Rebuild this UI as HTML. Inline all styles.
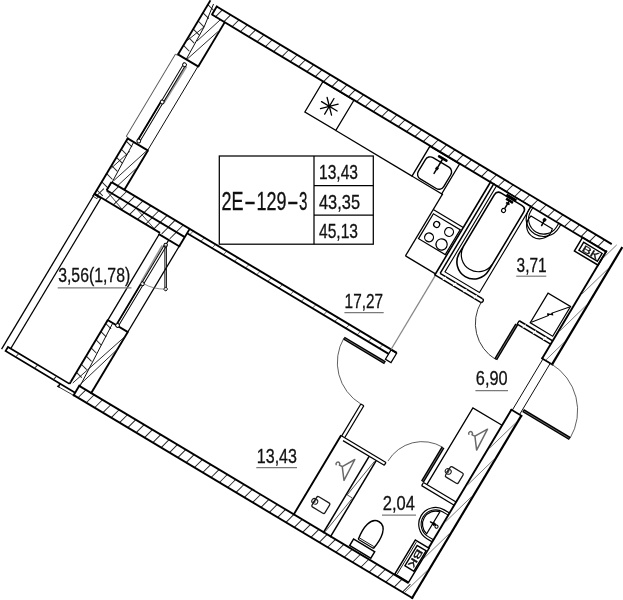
<!DOCTYPE html>
<html><head><meta charset="utf-8"><title>Plan 2E-129-3</title>
<style>
html,body{margin:0;padding:0;background:#fff;}
svg{display:block}
svg{filter:grayscale(1)}
text{font-family:"Liberation Sans",sans-serif;fill:#111;stroke:#111;stroke-width:0.3px;}
</style></head>
<body>
<svg width="623" height="600" viewBox="0 0 623 600">
<rect width="623" height="600" fill="#fff"/>
<g transform="translate(216.3 6.2) rotate(30.92)" fill="none">
<line x1="4.6" y1="9.9" x2="6.97" y2="0.4" stroke="#222" stroke-width="0.95" stroke-linecap="butt"/>
<line x1="14.3" y1="9.9" x2="16.67" y2="0.4" stroke="#222" stroke-width="0.95" stroke-linecap="butt"/>
<line x1="24.0" y1="9.9" x2="26.38" y2="0.4" stroke="#222" stroke-width="0.95" stroke-linecap="butt"/>
<line x1="33.7" y1="9.9" x2="36.08" y2="0.4" stroke="#222" stroke-width="0.95" stroke-linecap="butt"/>
<line x1="43.4" y1="9.9" x2="45.78" y2="0.4" stroke="#222" stroke-width="0.95" stroke-linecap="butt"/>
<line x1="53.1" y1="9.9" x2="55.48" y2="0.4" stroke="#222" stroke-width="0.95" stroke-linecap="butt"/>
<line x1="62.8" y1="9.9" x2="65.18" y2="0.4" stroke="#222" stroke-width="0.95" stroke-linecap="butt"/>
<line x1="72.5" y1="9.9" x2="74.88" y2="0.4" stroke="#222" stroke-width="0.95" stroke-linecap="butt"/>
<line x1="82.2" y1="9.9" x2="84.58" y2="0.4" stroke="#222" stroke-width="0.95" stroke-linecap="butt"/>
<line x1="91.9" y1="9.9" x2="94.28" y2="0.4" stroke="#222" stroke-width="0.95" stroke-linecap="butt"/>
<line x1="101.6" y1="9.9" x2="103.98" y2="0.4" stroke="#222" stroke-width="0.95" stroke-linecap="butt"/>
<line x1="111.3" y1="9.9" x2="113.68" y2="0.4" stroke="#222" stroke-width="0.95" stroke-linecap="butt"/>
<line x1="121.0" y1="9.9" x2="123.38" y2="0.4" stroke="#222" stroke-width="0.95" stroke-linecap="butt"/>
<line x1="130.7" y1="9.9" x2="133.08" y2="0.4" stroke="#222" stroke-width="0.95" stroke-linecap="butt"/>
<line x1="140.4" y1="9.9" x2="142.78" y2="0.4" stroke="#222" stroke-width="0.95" stroke-linecap="butt"/>
<line x1="150.1" y1="9.9" x2="152.47" y2="0.4" stroke="#222" stroke-width="0.95" stroke-linecap="butt"/>
<line x1="159.8" y1="9.9" x2="162.17" y2="0.4" stroke="#222" stroke-width="0.95" stroke-linecap="butt"/>
<line x1="169.5" y1="9.9" x2="171.87" y2="0.4" stroke="#222" stroke-width="0.95" stroke-linecap="butt"/>
<line x1="179.2" y1="9.9" x2="181.57" y2="0.4" stroke="#222" stroke-width="0.95" stroke-linecap="butt"/>
<line x1="188.9" y1="9.9" x2="191.27" y2="0.4" stroke="#222" stroke-width="0.95" stroke-linecap="butt"/>
<line x1="198.6" y1="9.9" x2="200.97" y2="0.4" stroke="#222" stroke-width="0.95" stroke-linecap="butt"/>
<line x1="208.3" y1="9.9" x2="210.67" y2="0.4" stroke="#222" stroke-width="0.95" stroke-linecap="butt"/>
<line x1="218.0" y1="9.9" x2="220.37" y2="0.4" stroke="#222" stroke-width="0.95" stroke-linecap="butt"/>
<line x1="227.7" y1="9.9" x2="230.07" y2="0.4" stroke="#222" stroke-width="0.95" stroke-linecap="butt"/>
<line x1="237.4" y1="9.9" x2="239.77" y2="0.4" stroke="#222" stroke-width="0.95" stroke-linecap="butt"/>
<line x1="247.1" y1="9.9" x2="249.47" y2="0.4" stroke="#222" stroke-width="0.95" stroke-linecap="butt"/>
<line x1="256.8" y1="9.9" x2="259.17" y2="0.4" stroke="#222" stroke-width="0.95" stroke-linecap="butt"/>
<line x1="266.5" y1="9.9" x2="268.87" y2="0.4" stroke="#222" stroke-width="0.95" stroke-linecap="butt"/>
<line x1="276.2" y1="9.9" x2="278.57" y2="0.4" stroke="#222" stroke-width="0.95" stroke-linecap="butt"/>
<line x1="285.9" y1="9.9" x2="288.27" y2="0.4" stroke="#222" stroke-width="0.95" stroke-linecap="butt"/>
<line x1="295.6" y1="9.9" x2="297.97" y2="0.4" stroke="#222" stroke-width="0.95" stroke-linecap="butt"/>
<line x1="305.3" y1="9.9" x2="307.67" y2="0.4" stroke="#222" stroke-width="0.95" stroke-linecap="butt"/>
<line x1="315.0" y1="9.9" x2="317.37" y2="0.4" stroke="#222" stroke-width="0.95" stroke-linecap="butt"/>
<line x1="324.7" y1="9.9" x2="327.07" y2="0.4" stroke="#222" stroke-width="0.95" stroke-linecap="butt"/>
<line x1="334.4" y1="9.9" x2="336.77" y2="0.4" stroke="#222" stroke-width="0.95" stroke-linecap="butt"/>
<line x1="344.1" y1="9.9" x2="346.47" y2="0.4" stroke="#222" stroke-width="0.95" stroke-linecap="butt"/>
<line x1="353.8" y1="9.9" x2="356.17" y2="0.4" stroke="#222" stroke-width="0.95" stroke-linecap="butt"/>
<line x1="363.5" y1="9.9" x2="365.87" y2="0.4" stroke="#222" stroke-width="0.95" stroke-linecap="butt"/>
<line x1="373.2" y1="9.9" x2="375.57" y2="0.4" stroke="#222" stroke-width="0.95" stroke-linecap="butt"/>
<line x1="382.9" y1="9.9" x2="385.27" y2="0.4" stroke="#222" stroke-width="0.95" stroke-linecap="butt"/>
<line x1="392.6" y1="9.9" x2="394.97" y2="0.4" stroke="#222" stroke-width="0.95" stroke-linecap="butt"/>
<line x1="402.3" y1="9.9" x2="404.67" y2="0.4" stroke="#222" stroke-width="0.95" stroke-linecap="butt"/>
<line x1="412.0" y1="9.9" x2="414.37" y2="0.4" stroke="#222" stroke-width="0.95" stroke-linecap="butt"/>
<line x1="421.7" y1="9.9" x2="424.07" y2="0.4" stroke="#222" stroke-width="0.95" stroke-linecap="butt"/>
<line x1="431.4" y1="9.9" x2="433.77" y2="0.4" stroke="#222" stroke-width="0.95" stroke-linecap="butt"/>
<line x1="441.1" y1="9.9" x2="443.47" y2="0.4" stroke="#222" stroke-width="0.95" stroke-linecap="butt"/>
<line x1="450.8" y1="9.9" x2="453.17" y2="0.4" stroke="#222" stroke-width="0.95" stroke-linecap="butt"/>
<line x1="82.5" y1="407.0" x2="85.22" y2="396.1" stroke="#222" stroke-width="0.95" stroke-linecap="butt"/>
<line x1="92.2" y1="407.0" x2="94.92" y2="396.1" stroke="#222" stroke-width="0.95" stroke-linecap="butt"/>
<line x1="101.9" y1="407.0" x2="104.62" y2="396.1" stroke="#222" stroke-width="0.95" stroke-linecap="butt"/>
<line x1="111.6" y1="407.0" x2="114.33" y2="396.1" stroke="#222" stroke-width="0.95" stroke-linecap="butt"/>
<line x1="121.3" y1="407.0" x2="124.03" y2="396.1" stroke="#222" stroke-width="0.95" stroke-linecap="butt"/>
<line x1="131.0" y1="407.0" x2="133.72" y2="396.1" stroke="#222" stroke-width="0.95" stroke-linecap="butt"/>
<line x1="140.7" y1="407.0" x2="143.42" y2="396.1" stroke="#222" stroke-width="0.95" stroke-linecap="butt"/>
<line x1="150.4" y1="407.0" x2="153.12" y2="396.1" stroke="#222" stroke-width="0.95" stroke-linecap="butt"/>
<line x1="160.1" y1="407.0" x2="162.82" y2="396.1" stroke="#222" stroke-width="0.95" stroke-linecap="butt"/>
<line x1="169.8" y1="407.0" x2="172.52" y2="396.1" stroke="#222" stroke-width="0.95" stroke-linecap="butt"/>
<line x1="179.5" y1="407.0" x2="182.22" y2="396.1" stroke="#222" stroke-width="0.95" stroke-linecap="butt"/>
<line x1="189.2" y1="407.0" x2="191.92" y2="396.1" stroke="#222" stroke-width="0.95" stroke-linecap="butt"/>
<line x1="198.9" y1="407.0" x2="201.62" y2="396.1" stroke="#222" stroke-width="0.95" stroke-linecap="butt"/>
<line x1="208.6" y1="407.0" x2="211.32" y2="396.1" stroke="#222" stroke-width="0.95" stroke-linecap="butt"/>
<line x1="218.3" y1="407.0" x2="221.02" y2="396.1" stroke="#222" stroke-width="0.95" stroke-linecap="butt"/>
<line x1="228.0" y1="407.0" x2="230.72" y2="396.1" stroke="#222" stroke-width="0.95" stroke-linecap="butt"/>
<line x1="237.7" y1="407.0" x2="240.42" y2="396.1" stroke="#222" stroke-width="0.95" stroke-linecap="butt"/>
<line x1="247.4" y1="407.0" x2="250.12" y2="396.1" stroke="#222" stroke-width="0.95" stroke-linecap="butt"/>
<line x1="257.1" y1="407.0" x2="259.82" y2="396.1" stroke="#222" stroke-width="0.95" stroke-linecap="butt"/>
<line x1="266.8" y1="407.0" x2="269.52" y2="396.1" stroke="#222" stroke-width="0.95" stroke-linecap="butt"/>
<line x1="276.5" y1="407.0" x2="279.22" y2="396.1" stroke="#222" stroke-width="0.95" stroke-linecap="butt"/>
<line x1="286.2" y1="407.0" x2="288.92" y2="396.1" stroke="#222" stroke-width="0.95" stroke-linecap="butt"/>
<line x1="295.9" y1="407.0" x2="298.62" y2="396.1" stroke="#222" stroke-width="0.95" stroke-linecap="butt"/>
<line x1="305.6" y1="407.0" x2="308.32" y2="396.1" stroke="#222" stroke-width="0.95" stroke-linecap="butt"/>
<line x1="315.3" y1="407.0" x2="318.02" y2="396.1" stroke="#222" stroke-width="0.95" stroke-linecap="butt"/>
<line x1="325.0" y1="407.0" x2="327.72" y2="396.1" stroke="#222" stroke-width="0.95" stroke-linecap="butt"/>
<line x1="334.7" y1="407.0" x2="337.42" y2="396.1" stroke="#222" stroke-width="0.95" stroke-linecap="butt"/>
<line x1="344.4" y1="407.0" x2="347.12" y2="396.1" stroke="#222" stroke-width="0.95" stroke-linecap="butt"/>
<line x1="354.1" y1="407.0" x2="356.82" y2="396.1" stroke="#222" stroke-width="0.95" stroke-linecap="butt"/>
<line x1="363.8" y1="407.0" x2="366.52" y2="396.1" stroke="#222" stroke-width="0.95" stroke-linecap="butt"/>
<line x1="373.5" y1="407.0" x2="376.22" y2="396.1" stroke="#222" stroke-width="0.95" stroke-linecap="butt"/>
<line x1="383.2" y1="407.0" x2="385.92" y2="396.1" stroke="#222" stroke-width="0.95" stroke-linecap="butt"/>
<line x1="392.9" y1="407.0" x2="395.62" y2="396.1" stroke="#222" stroke-width="0.95" stroke-linecap="butt"/>
<line x1="402.6" y1="407.0" x2="405.32" y2="396.1" stroke="#222" stroke-width="0.95" stroke-linecap="butt"/>
<line x1="412.3" y1="407.0" x2="415.02" y2="396.1" stroke="#222" stroke-width="0.95" stroke-linecap="butt"/>
<line x1="422.0" y1="407.0" x2="424.72" y2="396.1" stroke="#222" stroke-width="0.95" stroke-linecap="butt"/>
<line x1="431.7" y1="407.0" x2="434.42" y2="396.1" stroke="#222" stroke-width="0.95" stroke-linecap="butt"/>
<line x1="441.4" y1="407.0" x2="444.12" y2="396.1" stroke="#222" stroke-width="0.95" stroke-linecap="butt"/>
<line x1="451.1" y1="407.0" x2="453.82" y2="396.1" stroke="#222" stroke-width="0.95" stroke-linecap="butt"/>
<line x1="460.8" y1="407.0" x2="463.52" y2="396.1" stroke="#222" stroke-width="0.95" stroke-linecap="butt"/>
<line x1="-8" y1="3" x2="0" y2="5.0" stroke="#222" stroke-width="0.95" stroke-linecap="butt"/>
<line x1="-8" y1="12.5" x2="0" y2="14.5" stroke="#222" stroke-width="0.95" stroke-linecap="butt"/>
<line x1="-8" y1="22.0" x2="0" y2="24.0" stroke="#222" stroke-width="0.95" stroke-linecap="butt"/>
<line x1="-8" y1="31.5" x2="0" y2="33.5" stroke="#222" stroke-width="0.95" stroke-linecap="butt"/>
<line x1="-8" y1="41.0" x2="0" y2="43.0" stroke="#222" stroke-width="0.95" stroke-linecap="butt"/>
<line x1="-8" y1="50.5" x2="0" y2="52.5" stroke="#222" stroke-width="0.95" stroke-linecap="butt"/>
<line x1="-8" y1="162" x2="0" y2="164.0" stroke="#222" stroke-width="0.95" stroke-linecap="butt"/>
<line x1="-8" y1="171.5" x2="0" y2="173.5" stroke="#222" stroke-width="0.95" stroke-linecap="butt"/>
<line x1="-8" y1="181.0" x2="0" y2="183.0" stroke="#222" stroke-width="0.95" stroke-linecap="butt"/>
<line x1="-8" y1="190.5" x2="0" y2="192.5" stroke="#222" stroke-width="0.95" stroke-linecap="butt"/>
<line x1="-8" y1="200.0" x2="0" y2="202.0" stroke="#222" stroke-width="0.95" stroke-linecap="butt"/>
<line x1="-8" y1="209.5" x2="0" y2="211.5" stroke="#222" stroke-width="0.95" stroke-linecap="butt"/>
<line x1="-8" y1="219.0" x2="0" y2="221.0" stroke="#222" stroke-width="0.95" stroke-linecap="butt"/>
<line x1="6.5" y1="214.3" x2="8.9" y2="204.7" stroke="#222" stroke-width="0.95" stroke-linecap="butt"/>
<line x1="15.9" y1="214.3" x2="18.3" y2="204.7" stroke="#222" stroke-width="0.95" stroke-linecap="butt"/>
<line x1="25.3" y1="214.3" x2="27.7" y2="204.7" stroke="#222" stroke-width="0.95" stroke-linecap="butt"/>
<line x1="34.7" y1="214.3" x2="37.1" y2="204.7" stroke="#222" stroke-width="0.95" stroke-linecap="butt"/>
<line x1="44.1" y1="214.3" x2="46.5" y2="204.7" stroke="#222" stroke-width="0.95" stroke-linecap="butt"/>
<line x1="53.5" y1="214.3" x2="55.9" y2="204.7" stroke="#222" stroke-width="0.95" stroke-linecap="butt"/>
<line x1="62.9" y1="214.3" x2="65.3" y2="204.7" stroke="#222" stroke-width="0.95" stroke-linecap="butt"/>
<line x1="72.3" y1="214.3" x2="74.7" y2="204.7" stroke="#222" stroke-width="0.95" stroke-linecap="butt"/>
<line x1="81.7" y1="214.3" x2="84.1" y2="204.7" stroke="#222" stroke-width="0.95" stroke-linecap="butt"/>
<line x1="-5" y1="223.4" x2="-2.73" y2="214.3" stroke="#222" stroke-width="0.95" stroke-linecap="butt"/>
<line x1="4.4" y1="223.4" x2="6.67" y2="214.3" stroke="#222" stroke-width="0.95" stroke-linecap="butt"/>
<line x1="13.8" y1="223.4" x2="16.07" y2="214.3" stroke="#222" stroke-width="0.95" stroke-linecap="butt"/>
<line x1="23.2" y1="223.4" x2="25.48" y2="214.3" stroke="#222" stroke-width="0.95" stroke-linecap="butt"/>
<line x1="32.6" y1="223.4" x2="34.88" y2="214.3" stroke="#222" stroke-width="0.95" stroke-linecap="butt"/>
<line x1="42.0" y1="223.4" x2="44.27" y2="214.3" stroke="#222" stroke-width="0.95" stroke-linecap="butt"/>
<line x1="51.4" y1="223.4" x2="53.67" y2="214.3" stroke="#222" stroke-width="0.95" stroke-linecap="butt"/>
<line x1="60.8" y1="223.4" x2="63.07" y2="214.3" stroke="#222" stroke-width="0.95" stroke-linecap="butt"/>
<line x1="70.2" y1="223.4" x2="72.47" y2="214.3" stroke="#222" stroke-width="0.95" stroke-linecap="butt"/>
<line x1="79.6" y1="223.4" x2="81.88" y2="214.3" stroke="#222" stroke-width="0.95" stroke-linecap="butt"/>
<line x1="68.2" y1="329" x2="75.5" y2="330.82" stroke="#222" stroke-width="0.95" stroke-linecap="butt"/>
<line x1="68.2" y1="338.5" x2="75.5" y2="340.32" stroke="#222" stroke-width="0.95" stroke-linecap="butt"/>
<line x1="68.2" y1="348.0" x2="75.5" y2="349.82" stroke="#222" stroke-width="0.95" stroke-linecap="butt"/>
<line x1="68.2" y1="357.5" x2="75.5" y2="359.32" stroke="#222" stroke-width="0.95" stroke-linecap="butt"/>
<line x1="68.2" y1="367.0" x2="75.5" y2="368.82" stroke="#222" stroke-width="0.95" stroke-linecap="butt"/>
<line x1="68.2" y1="376.5" x2="75.5" y2="378.32" stroke="#222" stroke-width="0.95" stroke-linecap="butt"/>
<line x1="68.2" y1="386.0" x2="75.5" y2="387.82" stroke="#222" stroke-width="0.95" stroke-linecap="butt"/>
<line x1="94.6" y1="209.7" x2="95.85" y2="204.7" stroke="#555" stroke-width="0.8" stroke-linecap="butt"/>
<line x1="107.6" y1="209.7" x2="108.85" y2="204.7" stroke="#555" stroke-width="0.8" stroke-linecap="butt"/>
<line x1="120.6" y1="209.7" x2="121.85" y2="204.7" stroke="#555" stroke-width="0.8" stroke-linecap="butt"/>
<line x1="133.6" y1="209.7" x2="134.85" y2="204.7" stroke="#555" stroke-width="0.8" stroke-linecap="butt"/>
<line x1="146.6" y1="209.7" x2="147.85" y2="204.7" stroke="#555" stroke-width="0.8" stroke-linecap="butt"/>
<line x1="159.6" y1="209.7" x2="160.85" y2="204.7" stroke="#555" stroke-width="0.8" stroke-linecap="butt"/>
<line x1="172.6" y1="209.7" x2="173.85" y2="204.7" stroke="#555" stroke-width="0.8" stroke-linecap="butt"/>
<line x1="185.6" y1="209.7" x2="186.85" y2="204.7" stroke="#555" stroke-width="0.8" stroke-linecap="butt"/>
<line x1="198.6" y1="209.7" x2="199.85" y2="204.7" stroke="#555" stroke-width="0.8" stroke-linecap="butt"/>
<line x1="211.6" y1="209.7" x2="212.85" y2="204.7" stroke="#555" stroke-width="0.8" stroke-linecap="butt"/>
<line x1="224.6" y1="209.7" x2="225.85" y2="204.7" stroke="#555" stroke-width="0.8" stroke-linecap="butt"/>
<line x1="237.6" y1="209.7" x2="238.85" y2="204.7" stroke="#555" stroke-width="0.8" stroke-linecap="butt"/>
<line x1="250.6" y1="209.7" x2="251.85" y2="204.7" stroke="#555" stroke-width="0.8" stroke-linecap="butt"/>
<line x1="263.6" y1="209.7" x2="264.85" y2="204.7" stroke="#555" stroke-width="0.8" stroke-linecap="butt"/>
<line x1="276.6" y1="209.7" x2="277.85" y2="204.7" stroke="#555" stroke-width="0.8" stroke-linecap="butt"/>
<line x1="289.6" y1="209.7" x2="290.85" y2="204.7" stroke="#555" stroke-width="0.8" stroke-linecap="butt"/>
<line x1="302.6" y1="209.7" x2="303.85" y2="204.7" stroke="#555" stroke-width="0.8" stroke-linecap="butt"/>
<line x1="315.6" y1="209.7" x2="316.85" y2="204.7" stroke="#555" stroke-width="0.8" stroke-linecap="butt"/>
<line x1="0" y1="0.0" x2="461.5" y2="0.95" stroke="#000" stroke-width="1.9" stroke-linecap="butt"/>
<line x1="0.5" y1="9.4" x2="460.5" y2="10.4" stroke="#000" stroke-width="1.9" stroke-linecap="butt"/>
<line x1="0.6" y1="-0.8" x2="0.6" y2="9.9" stroke="#000" stroke-width="1.9" stroke-linecap="butt"/>
<line x1="-8" y1="-2" x2="-8" y2="61.5" stroke="#000" stroke-width="1.9" stroke-linecap="butt"/>
<line x1="15.5" y1="9" x2="15.5" y2="61" stroke="#000" stroke-width="1.9" stroke-linecap="butt"/>
<line x1="-8.7" y1="61" x2="16.2" y2="61" stroke="#000" stroke-width="1.9" stroke-linecap="butt"/>
<line x1="-3.5" y1="-0.5" x2="0.2" y2="24" stroke="#000" stroke-width="0.85" stroke-linecap="butt"/>
<line x1="0.2" y1="24" x2="1.5" y2="61" stroke="#000" stroke-width="0.85" stroke-linecap="butt"/>
<line x1="10.3" y1="10" x2="1.3" y2="40" stroke="#222" stroke-width="0.85" stroke-linecap="butt"/>
<line x1="0.2" y1="24" x2="-7.5" y2="45" stroke="#222" stroke-width="0.85" stroke-linecap="butt"/>
<line x1="14.5" y1="21" x2="2" y2="61" stroke="#222" stroke-width="0.85" stroke-linecap="butt"/>
<line x1="-10.4" y1="62" x2="-10.4" y2="158" stroke="#555" stroke-width="0.9" stroke-linecap="butt"/>
<line x1="-10.4" y1="62" x2="-8" y2="62" stroke="#555" stroke-width="0.9" stroke-linecap="butt"/>
<line x1="-10.4" y1="158" x2="-8" y2="158" stroke="#555" stroke-width="0.9" stroke-linecap="butt"/>
<line x1="15.2" y1="61" x2="15.2" y2="159" stroke="#000" stroke-width="0.85" stroke-linecap="butt"/>
<line x1="5.3" y1="67" x2="4.6" y2="110" stroke="#999" stroke-width="2.0" stroke-linecap="butt"/>
<line x1="1.7" y1="65" x2="1.7" y2="157" stroke="#000" stroke-width="0.95" stroke-linecap="butt"/>
<line x1="3.9" y1="65" x2="3.9" y2="157" stroke="#000" stroke-width="0.95" stroke-linecap="butt"/>
<line x1="1.5" y1="111" x2="1.5" y2="156" stroke="#000" stroke-width="1.7" stroke-linecap="butt"/>
<circle cx="2.8" cy="66.5" r="1.9" stroke="#000" stroke-width="0.9" fill="#fff"/>
<circle cx="2.8" cy="110" r="1.9" stroke="#000" stroke-width="0.9" fill="#fff"/>
<circle cx="2.8" cy="155.5" r="1.9" stroke="#000" stroke-width="0.9" fill="#fff"/>
<line x1="-8" y1="158.5" x2="-8" y2="224" stroke="#000" stroke-width="1.9" stroke-linecap="butt"/>
<line x1="-8.7" y1="159" x2="16.2" y2="159" stroke="#000" stroke-width="1.9" stroke-linecap="butt"/>
<line x1="15.5" y1="159" x2="15.5" y2="205" stroke="#000" stroke-width="1.9" stroke-linecap="butt"/>
<line x1="-1.0" y1="159" x2="1.0" y2="203" stroke="#000" stroke-width="0.85" stroke-linecap="butt"/>
<line x1="1.0" y1="203" x2="0.5" y2="213.5" stroke="#000" stroke-width="0.85" stroke-linecap="butt"/>
<line x1="14.5" y1="160" x2="1.5" y2="203" stroke="#222" stroke-width="0.85" stroke-linecap="butt"/>
<line x1="14.5" y1="181" x2="7.5" y2="205" stroke="#222" stroke-width="0.85" stroke-linecap="butt"/>
<line x1="0.4" y1="169" x2="-6.9" y2="193" stroke="#222" stroke-width="0.85" stroke-linecap="butt"/>
<line x1="-8.7" y1="224.2" x2="0" y2="224.2" stroke="#000" stroke-width="1.25" stroke-linecap="butt"/>
<rect x="-8.6" y="224.2" width="5.2" height="2.2" rx="0" stroke="#000" stroke-width="0.7" fill="none"/>
<line x1="1" y1="214.8" x2="24" y2="222.8" stroke="#333" stroke-width="0.8" stroke-linecap="butt"/>
<line x1="36" y1="214.8" x2="62" y2="223" stroke="#333" stroke-width="0.8" stroke-linecap="butt"/>
<line x1="0.5" y1="204.7" x2="333" y2="204.7" stroke="#000" stroke-width="1.9" stroke-linecap="butt"/>
<line x1="0.5" y1="204.7" x2="0.5" y2="214.3" stroke="#000" stroke-width="1.9" stroke-linecap="butt"/>
<line x1="0.5" y1="214.3" x2="91.6" y2="214.3" stroke="#000" stroke-width="1.9" stroke-linecap="butt"/>
<line x1="-8" y1="223.4" x2="68.2" y2="223.4" stroke="#000" stroke-width="1.9" stroke-linecap="butt"/>
<line x1="67.4" y1="225" x2="92.4" y2="225" stroke="#000" stroke-width="1.9" stroke-linecap="butt"/>
<line x1="91.6" y1="204.7" x2="91.6" y2="225" stroke="#000" stroke-width="1.9" stroke-linecap="butt"/>
<line x1="91.6" y1="209.7" x2="326.5" y2="209.7" stroke="#000" stroke-width="1.8" stroke-linecap="butt"/>
<path d="M326.5 205 L333 205 L333 216 L326.5 216 Z" stroke="#000" stroke-width="1.25" fill="none" stroke-linejoin="miter"/>
<line x1="326.3" y1="119" x2="326.3" y2="204.7" stroke="#888" stroke-width="1.3" stroke-linecap="butt"/>
<line x1="-8" y1="224" x2="-8" y2="404.5" stroke="#000" stroke-width="1.3" stroke-linecap="butt"/>
<line x1="-0.4" y1="224" x2="-0.4" y2="399.4" stroke="#000" stroke-width="1.2" stroke-linecap="butt"/>
<path d="M68.2 399.4 L-3.6 399.4 L-3.6 404.1 L77.5 404.1" stroke="#000" stroke-width="1.7" fill="none" stroke-linejoin="miter"/>
<line x1="68.2" y1="397" x2="68.2" y2="399.4" stroke="#000" stroke-width="1.9" stroke-linecap="butt"/>
<line x1="60" y1="404" x2="60" y2="407.6" stroke="#000" stroke-width="1.6" stroke-linecap="butt"/>
<line x1="58.6" y1="407.6" x2="61.6" y2="407.6" stroke="#000" stroke-width="1.2" stroke-linecap="butt"/>
<line x1="61" y1="407.6" x2="77.5" y2="407.2" stroke="#000" stroke-width="0.7" stroke-linecap="butt"/>
<line x1="8" y1="404.1" x2="9.18" y2="399.4" stroke="#222" stroke-width="0.9" stroke-linecap="butt"/>
<line x1="30" y1="404.1" x2="31.18" y2="399.4" stroke="#222" stroke-width="0.9" stroke-linecap="butt"/>
<line x1="52" y1="404.1" x2="53.18" y2="399.4" stroke="#222" stroke-width="0.9" stroke-linecap="butt"/>
<line x1="68.2" y1="225" x2="68.2" y2="325" stroke="#000" stroke-width="1.3" stroke-linecap="butt"/>
<line x1="68.2" y1="325" x2="68.2" y2="397" stroke="#000" stroke-width="1.9" stroke-linecap="butt"/>
<line x1="91.5" y1="225" x2="91.5" y2="325" stroke="#000" stroke-width="1.3" stroke-linecap="butt"/>
<line x1="79.3" y1="225" x2="79.3" y2="229.5" stroke="#000" stroke-width="1.25" stroke-linecap="butt"/>
<line x1="76.6" y1="233" x2="77.3" y2="275" stroke="#999" stroke-width="1.8" stroke-linecap="butt"/>
<line x1="78.2" y1="231" x2="78.2" y2="323" stroke="#000" stroke-width="0.95" stroke-linecap="butt"/>
<line x1="80.4" y1="231" x2="80.4" y2="323" stroke="#000" stroke-width="0.95" stroke-linecap="butt"/>
<line x1="77.9" y1="277" x2="77.9" y2="323" stroke="#000" stroke-width="1.7" stroke-linecap="butt"/>
<circle cx="79.3" cy="231" r="1.8" stroke="#000" stroke-width="0.9" fill="#fff"/>
<circle cx="79.3" cy="276" r="1.8" stroke="#000" stroke-width="0.9" fill="#fff"/>
<line x1="78.39999999999999" y1="231" x2="101.00899264454068" y2="268.7469661244332" stroke="#111" stroke-width="1.0" stroke-linecap="butt"/>
<line x1="80.2" y1="231" x2="102.8089926445407" y2="268.7469661244332" stroke="#111" stroke-width="1.0" stroke-linecap="butt"/>
<circle cx="101.90899264454069" cy="268.7469661244332" r="1.7" stroke="#000" stroke-width="0.8" fill="#fff"/>
<path d="M101.90899264454069 268.7469661244332 A44 44 0 0 1 79.3 275.5" stroke="#555" stroke-width="0.6" fill="none" />
<line x1="67.5" y1="325" x2="92.2" y2="325" stroke="#000" stroke-width="1.9" stroke-linecap="butt"/>
<circle cx="79.3" cy="324.6" r="1.9" stroke="#000" stroke-width="1.0" fill="#fff"/>
<line x1="74" y1="325" x2="78.3" y2="396" stroke="#000" stroke-width="0.85" stroke-linecap="butt"/>
<line x1="91.5" y1="325" x2="91.5" y2="397" stroke="#000" stroke-width="1.9" stroke-linecap="butt"/>
<line x1="91.5" y1="330" x2="70.5" y2="397" stroke="#222" stroke-width="0.85" stroke-linecap="butt"/>
<line x1="91.5" y1="345" x2="77" y2="396.5" stroke="#222" stroke-width="0.85" stroke-linecap="butt"/>
<line x1="77.5" y1="396.1" x2="461.4" y2="396.1" stroke="#000" stroke-width="1.9" stroke-linecap="butt"/>
<line x1="77.5" y1="407.0" x2="473.2" y2="407.0" stroke="#000" stroke-width="1.9" stroke-linecap="butt"/>
<line x1="77.5" y1="395.2" x2="77.5" y2="407.9" stroke="#000" stroke-width="1.9" stroke-linecap="butt"/>
<line x1="472.1" y1="-2" x2="472.1" y2="135" stroke="#000" stroke-width="2.2" stroke-linecap="butt"/>
<line x1="460.5" y1="9" x2="460.5" y2="135" stroke="#000" stroke-width="1.9" stroke-linecap="butt"/>
<line x1="472.1" y1="194.5" x2="472.1" y2="408" stroke="#000" stroke-width="2.2" stroke-linecap="butt"/>
<line x1="460.5" y1="194.5" x2="460.5" y2="356" stroke="#000" stroke-width="1.9" stroke-linecap="butt"/>
<line x1="466.17" y1="-1" x2="461.6" y2="16.0" stroke="#555" stroke-width="0.7" stroke-linecap="butt"/>
<line x1="471.0" y1="24" x2="461.6" y2="59.0" stroke="#555" stroke-width="0.7" stroke-linecap="butt"/>
<line x1="471.0" y1="67" x2="461.6" y2="102.0" stroke="#555" stroke-width="0.7" stroke-linecap="butt"/>
<line x1="471.0" y1="110" x2="464.55" y2="134" stroke="#555" stroke-width="0.7" stroke-linecap="butt"/>
<line x1="471.0" y1="203.5" x2="461.6" y2="238.5" stroke="#555" stroke-width="0.7" stroke-linecap="butt"/>
<line x1="471.0" y1="246.5" x2="461.6" y2="281.5" stroke="#555" stroke-width="0.7" stroke-linecap="butt"/>
<line x1="471.0" y1="289.5" x2="461.6" y2="324.5" stroke="#555" stroke-width="0.7" stroke-linecap="butt"/>
<line x1="471.0" y1="332.5" x2="461.6" y2="367.5" stroke="#555" stroke-width="0.7" stroke-linecap="butt"/>
<line x1="471.0" y1="375.5" x2="462.81" y2="406" stroke="#555" stroke-width="0.7" stroke-linecap="butt"/>
<line x1="459.6" y1="134.7" x2="473.2" y2="134.7" stroke="#000" stroke-width="1.7" stroke-linecap="butt"/>
<line x1="459.6" y1="194.5" x2="473.2" y2="194.5" stroke="#000" stroke-width="1.7" stroke-linecap="butt"/>
<line x1="461.5" y1="135" x2="461.5" y2="194.5" stroke="#000" stroke-width="0.85" stroke-linecap="butt"/>
<line x1="470" y1="135" x2="470" y2="194.5" stroke="#000" stroke-width="0.85" stroke-linecap="butt"/>
<line x1="471" y1="189.3" x2="525.5" y2="189.3" stroke="#000" stroke-width="3.5" stroke-linecap="butt"/>
<line x1="472" y1="189.3" x2="524.6" y2="189.3" stroke="#ddd" stroke-width="0.4" stroke-linecap="butt"/>
<path d="M525.5 189 A54.5 54.5 0 0 0 471 134.7" stroke="#333" stroke-width="0.7" fill="none" />
<line x1="325.6" y1="9" x2="325.6" y2="118.9" stroke="#000" stroke-width="1.6" stroke-linecap="butt"/>
<line x1="329.3" y1="9" x2="329.3" y2="114.2" stroke="#000" stroke-width="1.5" stroke-linecap="butt"/>
<line x1="329.3" y1="114.2" x2="378.5" y2="114.2" stroke="#000" stroke-width="1.5" stroke-linecap="butt"/>
<line x1="325.6" y1="118.2" x2="378.5" y2="118.2" stroke="#000" stroke-width="1.5" stroke-linecap="butt"/>
<path d="M378.5 114.2 A2 2 0 0 1 378.5 118.2" stroke="#000" stroke-width="1.3" fill="none" />
<line x1="421.5" y1="114.2" x2="460.5" y2="114.2" stroke="#000" stroke-width="1.5" stroke-linecap="butt"/>
<line x1="421.5" y1="118.2" x2="460.5" y2="118.2" stroke="#000" stroke-width="1.5" stroke-linecap="butt"/>
<line x1="421.5" y1="114.2" x2="421.5" y2="118.2" stroke="#000" stroke-width="1.3" stroke-linecap="butt"/>
<line x1="335" y1="118.2" x2="336.0" y2="114.2" stroke="#fff" stroke-width="1.2" stroke-linecap="butt"/>
<line x1="347" y1="118.2" x2="348.0" y2="114.2" stroke="#fff" stroke-width="1.2" stroke-linecap="butt"/>
<line x1="359" y1="118.2" x2="360.0" y2="114.2" stroke="#fff" stroke-width="1.2" stroke-linecap="butt"/>
<line x1="371" y1="118.2" x2="372.0" y2="114.2" stroke="#fff" stroke-width="1.2" stroke-linecap="butt"/>
<line x1="428" y1="118.2" x2="429.0" y2="114.2" stroke="#fff" stroke-width="1.2" stroke-linecap="butt"/>
<line x1="440" y1="118.2" x2="441.0" y2="114.2" stroke="#fff" stroke-width="1.2" stroke-linecap="butt"/>
<line x1="452" y1="118.2" x2="453.0" y2="114.2" stroke="#fff" stroke-width="1.2" stroke-linecap="butt"/>
<line x1="421.2" y1="118.5" x2="421.2" y2="159.5" stroke="#000" stroke-width="3.4" stroke-linecap="butt"/>
<line x1="421.2" y1="119.5" x2="421.2" y2="158.6" stroke="#ddd" stroke-width="0.4" stroke-linecap="butt"/>
<path d="M421.2 159.5 A42 42 0 0 1 379.3 117.5" stroke="#222" stroke-width="0.8" fill="none" />
<rect x="130.3" y="10" width="36.1" height="35.2" rx="0" stroke="#000" stroke-width="1.25" fill="none"/>
<line x1="166.4" y1="45.2" x2="255.2" y2="45.2" stroke="#000" stroke-width="1.25" stroke-linecap="butt"/>
<rect x="255.2" y="10.4" width="34.6" height="34.8" rx="0" stroke="#000" stroke-width="1.3" fill="none"/>
<rect x="258.2" y="18.6" width="29.6" height="24.8" rx="5.5" stroke="#000" stroke-width="1.4" fill="none"/>
<line x1="289.8" y1="45.2" x2="291.3" y2="45.2" stroke="#000" stroke-width="1.25" stroke-linecap="butt"/>
<line x1="290.6" y1="45" x2="290.6" y2="117" stroke="#000" stroke-width="1.25" stroke-linecap="butt"/>
<line x1="290.6" y1="117" x2="325.6" y2="117" stroke="#000" stroke-width="1.25" stroke-linecap="butt"/>
<line x1="290.6" y1="63" x2="325.6" y2="63" stroke="#000" stroke-width="1.25" stroke-linecap="butt"/>
<rect x="292.9" y="66.5" width="31.2" height="29" rx="0" stroke="#000" stroke-width="1.25" fill="none"/>
<circle cx="301.2" cy="74.0" r="3.0" stroke="#000" stroke-width="1.25" fill="none"/>
<circle cx="315.7" cy="74.1" r="4.4" stroke="#000" stroke-width="1.25" fill="none"/>
<circle cx="301.3" cy="89" r="4.4" stroke="#000" stroke-width="1.25" fill="none"/>
<circle cx="315.7" cy="88.6" r="5.6" stroke="#000" stroke-width="1.25" fill="none"/>
<line x1="268.3" y1="14.3" x2="276.8" y2="14.3" stroke="#000" stroke-width="2.6" stroke-linecap="round"/>
<line x1="272.7" y1="14.2" x2="272.7" y2="31.5" stroke="#000" stroke-width="1.5" stroke-linecap="round"/>
<circle cx="272.7" cy="25.8" r="1.3" stroke="#000" stroke-width="0.8" fill="#000"/>
<line x1="139.3" y1="27.8" x2="157.5" y2="27.8" stroke="#000" stroke-width="1.3" stroke-linecap="round"/>
<line x1="141.97" y1="21.37" x2="154.83" y2="34.23" stroke="#000" stroke-width="1.3" stroke-linecap="round"/>
<line x1="148.4" y1="18.7" x2="148.4" y2="36.9" stroke="#000" stroke-width="1.3" stroke-linecap="round"/>
<line x1="154.83" y1="21.37" x2="141.97" y2="34.23" stroke="#000" stroke-width="1.3" stroke-linecap="round"/>
<circle cx="148.4" cy="27.8" r="1.3" stroke="#000" stroke-width="0.5" fill="#000"/>
<rect x="332.7" y="10" width="40.2" height="100.4" rx="0" stroke="#000" stroke-width="1.1" fill="none"/>
<path d="M335.4 19 Q335.4 13.9 340.5 13.9 L364.4 13.9 Q369.5 13.9 369.5 19 L369.5 87 A17.05 17.05 0 0 1 335.4 87 Z" stroke="#000" stroke-width="1.6" fill="none" />
<path d="M335.6 80 A16.9 16.9 0 0 0 369.3 80" stroke="#000" stroke-width="1.2" fill="none" />
<line x1="345.8" y1="12.8" x2="357.3" y2="12.8" stroke="#000" stroke-width="3.0" stroke-linecap="butt"/>
<line x1="347.5" y1="16.2" x2="355.5" y2="16.2" stroke="#000" stroke-width="2.6" stroke-linecap="butt"/>
<line x1="349.5" y1="19.5" x2="353.5" y2="19.5" stroke="#000" stroke-width="1.8" stroke-linecap="butt"/>
<line x1="351.4" y1="17" x2="351.4" y2="25.5" stroke="#000" stroke-width="1.5" stroke-linecap="butt"/>
<circle cx="351.4" cy="27.7" r="2.0" stroke="#000" stroke-width="1.1" fill="#fff"/>
<path d="M372.7 9.5 L372.7 14.3 A17.5 17.5 0 0 0 407.7 14.3 L407.7 9.5" stroke="#000" stroke-width="1.2" fill="none" />
<path d="M375.1 9.5 L375.1 14.3 A15.1 15.1 0 0 0 405.3 14.3 L405.3 9.5" stroke="#000" stroke-width="1.1" fill="none" />
<path d="M377.8 18.3 A13 13 0 1 0 402.6 18.3 Z" stroke="#000" stroke-width="1.2" fill="none" />
<line x1="391.4" y1="15" x2="391.8" y2="21" stroke="#000" stroke-width="1.6" stroke-linecap="round"/>
<circle cx="391.4" cy="14.6" r="1.5" stroke="#000" stroke-width="0.8" fill="#000"/>
<rect x="433" y="10" width="27.5" height="16" rx="0" stroke="#000" stroke-width="1.5" fill="none"/>
<rect x="436.5" y="13.8" width="21.5" height="9.2" rx="0" stroke="#000" stroke-width="1.4" fill="none"/>
<text x="438.6" y="22" font-size="9.6" textLength="17.5" lengthAdjust="spacingAndGlyphs" fill="#000" stroke="none">ВК</text>
<rect x="432" y="75.6" width="26.2" height="34.7" rx="0" stroke="#000" stroke-width="1.25" fill="none"/>
<path d="M432.7 109.3 L443.6 95 L442.4 93.6 L447.2 92 L445.8 90.6 L457.6 76.6" stroke="#000" stroke-width="1.0" fill="none" />
<path d="M442.4 93.6 L447.2 92 L445.8 90.6 L443.6 95 Z" stroke="#000" stroke-width="0.5" fill="#000" />
<line x1="280" y1="219.2" x2="328" y2="219.2" stroke="#000" stroke-width="3.4" stroke-linecap="butt"/>
<line x1="281" y1="219.2" x2="327" y2="219.2" stroke="#ddd" stroke-width="0.4" stroke-linecap="butt"/>
<path d="M280 219 A48.5 48.5 0 0 0 328.5 267" stroke="#333" stroke-width="0.7" fill="none" />
<line x1="328.4" y1="267" x2="328.4" y2="304.5" stroke="#000" stroke-width="1.2" stroke-linecap="butt"/>
<line x1="331.9" y1="267" x2="331.9" y2="304" stroke="#000" stroke-width="1.25" stroke-linecap="butt"/>
<line x1="328.4" y1="267" x2="331.9" y2="267" stroke="#000" stroke-width="1.25" stroke-linecap="butt"/>
<line x1="327.6" y1="304" x2="327.6" y2="397" stroke="#000" stroke-width="1.9" stroke-linecap="butt"/>
<line x1="328" y1="304.2" x2="380" y2="304.2" stroke="#000" stroke-width="1.2" stroke-linecap="butt"/>
<line x1="331.9" y1="307.6" x2="380" y2="307.6" stroke="#000" stroke-width="1.2" stroke-linecap="butt"/>
<line x1="380" y1="304.2" x2="380" y2="307.6" stroke="#000" stroke-width="1.25" stroke-linecap="butt"/>
<line x1="362.4" y1="307.6" x2="362.4" y2="397" stroke="#000" stroke-width="1.5" stroke-linecap="butt"/>
<line x1="370.6" y1="307.6" x2="370.6" y2="397" stroke="#000" stroke-width="1.5" stroke-linecap="butt"/>
<path d="M369.6 309 L363.4 352 L369.6 352 L363.4 395" stroke="#444" stroke-width="0.8" fill="none" />
<path d="M426.5 302 L426.5 212.7 L460.5 212.7" stroke="#000" stroke-width="1.3" fill="none" stroke-linejoin="miter"/>
<line x1="422.5" y1="302.2" x2="460.5" y2="302.2" stroke="#000" stroke-width="1.2" stroke-linecap="butt"/>
<line x1="422.5" y1="305.8" x2="460.5" y2="305.8" stroke="#000" stroke-width="1.2" stroke-linecap="butt"/>
<line x1="422.5" y1="302.2" x2="422.5" y2="305.8" stroke="#000" stroke-width="1.25" stroke-linecap="butt"/>
<line x1="421.2" y1="262" x2="421.2" y2="302" stroke="#000" stroke-width="3.4" stroke-linecap="butt"/>
<line x1="421.2" y1="263" x2="421.2" y2="301" stroke="#ddd" stroke-width="0.4" stroke-linecap="butt"/>
<path d="M421 262 A40 40 0 0 0 381 302" stroke="#333" stroke-width="0.7" fill="none" />
<path d="M460.5 315 L454.3 315 A16.8 16.8 0 0 0 454.3 348.6 L460.5 348.6" stroke="#000" stroke-width="1.2" fill="none" />
<path d="M460.5 317.4 L454.3 317.4 A14.4 14.4 0 0 0 454.3 346.2 L460.5 346.2" stroke="#000" stroke-width="1.1" fill="none" />
<path d="M451.6 318.8 A13.2 13.2 0 0 0 451.6 344.6 Z" stroke="#000" stroke-width="1.2" fill="none" />
<line x1="448.8" y1="332.4" x2="456.5" y2="332.4" stroke="#000" stroke-width="1.5" stroke-linecap="round"/>
<circle cx="452.6" cy="332.4" r="1.4" stroke="#000" stroke-width="0.8" fill="#000"/>
<circle cx="456.3" cy="333.3" r="1.6" stroke="#000" stroke-width="1.0" fill="#fff"/>
<rect x="445" y="355.6" width="16" height="39.8" rx="0" stroke="#000" stroke-width="1.5" fill="none"/>
<line x1="447" y1="357" x2="447" y2="394" stroke="#000" stroke-width="0.8" stroke-linecap="butt"/>
<rect x="449.4" y="359.4" width="10.4" height="23.8" rx="0" stroke="#000" stroke-width="1.4" fill="none"/>
<text transform="translate(451.3 361.4) rotate(90)" font-size="9.6" textLength="19.5" lengthAdjust="spacingAndGlyphs" fill="#000" stroke="none">ВК</text>
<rect x="391.6" y="386.6" width="24.6" height="7.6" rx="0" stroke="#000" stroke-width="1.5" fill="none"/>
<path d="M395.8 384.4 C393.6 372 395 358.6 404.6 358.6 C414.2 358.6 415.6 372 413.4 384.4" stroke="#000" stroke-width="1.5" fill="none" />
<line x1="395.6" y1="384.4" x2="413.6" y2="384.4" stroke="#000" stroke-width="1.0" stroke-linecap="butt"/>
<line x1="396.4" y1="382.6" x2="412.8" y2="382.6" stroke="#000" stroke-width="0.8" stroke-linecap="butt"/>
<path d="M338.40000000000003 331.7 a1.9 1.9 0 1 1 3.0 -1.2 L344.6 330.2 L351.8 317.7 L353.20000000000005 341.2 L344.6 330.2" stroke="#6a6a6a" stroke-width="1.5" fill="none" stroke-linejoin="round" stroke-linecap="round"/>
<rect x="338.5" y="368.2" width="15" height="12" rx="1.6" stroke="#1a1a1a" stroke-width="1.25" fill="none"/>
<ellipse cx="338.9" cy="374.2" rx="3.1" ry="2.7" stroke="#1a1a1a" stroke-width="1.0" fill="none"/>
<path d="M337.3 372.8 l2.6 2.8 M339.9 372.8 l-2.6 2.8" stroke="#1a1a1a" stroke-width="0.7" fill="none"/>
<path d="M436.6 237.5 a1.9 1.9 0 1 1 3.0 -1.2 L442.8 236 L450.0 223.5 L451.40000000000003 247 L442.8 236" stroke="#6a6a6a" stroke-width="1.5" fill="none" stroke-linejoin="round" stroke-linecap="round"/>
<rect x="437.6" y="273.9" width="15" height="12" rx="1.6" stroke="#1a1a1a" stroke-width="1.25" fill="none"/>
<ellipse cx="438.0" cy="279.9" rx="3.1" ry="2.7" stroke="#1a1a1a" stroke-width="1.0" fill="none"/>
<path d="M436.40000000000003 278.5 l2.6 2.8 M439.0 278.5 l-2.6 2.8" stroke="#1a1a1a" stroke-width="0.7" fill="none"/>
</g>
<g stroke="#000" stroke-width="1.25" fill="none"><rect x="219.3" y="156" width="154" height="88.2"/><line x1="314" y1="156" x2="314" y2="244.2"/><line x1="314" y1="185.5" x2="373.3" y2="185.5"/><line x1="314" y1="215.2" x2="373.3" y2="215.2"/></g>
<text x="58.2" y="282.4" font-size="20" textLength="72.0" lengthAdjust="spacingAndGlyphs">3,56(1,78)</text><line x1="57.7" y1="287.9" x2="131.5" y2="287.9" stroke="#7a7a7a" stroke-width="1.2"/><text x="344.6" y="308.1" font-size="20.5" textLength="38.4" lengthAdjust="spacingAndGlyphs">17,27</text><line x1="344.4" y1="312.6" x2="383.7" y2="312.6" stroke="#7a7a7a" stroke-width="1.2"/><text x="256.8" y="463.2" font-size="20.5" textLength="40.2" lengthAdjust="spacingAndGlyphs">13,43</text><line x1="256.3" y1="467.6" x2="297" y2="467.6" stroke="#7a7a7a" stroke-width="1.2"/><text x="516.6" y="271.6" font-size="20.5" textLength="30.0" lengthAdjust="spacingAndGlyphs">3,71</text><line x1="516.2" y1="276.2" x2="546.3" y2="276.2" stroke="#7a7a7a" stroke-width="1.2"/><text x="475.8" y="385.4" font-size="20.5" textLength="31.8" lengthAdjust="spacingAndGlyphs">6,90</text><line x1="475.4" y1="390.6" x2="508" y2="390.6" stroke="#7a7a7a" stroke-width="1.2"/><text x="382.8" y="510.4" font-size="20.5" textLength="32.2" lengthAdjust="spacingAndGlyphs">2,04</text><line x1="382" y1="515.2" x2="416" y2="515.2" stroke="#7a7a7a" stroke-width="1.2"/><text y="210" font-size="25"><tspan x="221.6" textLength="22" lengthAdjust="spacingAndGlyphs">2E</tspan><tspan x="244" textLength="12" lengthAdjust="spacingAndGlyphs">-</tspan><tspan x="256.4" textLength="30" lengthAdjust="spacingAndGlyphs">129</tspan><tspan x="286.8" textLength="12" lengthAdjust="spacingAndGlyphs">-</tspan><tspan x="299" textLength="8.4" lengthAdjust="spacingAndGlyphs">3</tspan></text><text x="319" y="178.8" font-size="19.8" textLength="39.0" lengthAdjust="spacingAndGlyphs">13,43</text><text x="319" y="208.6" font-size="19.8" textLength="41.0" lengthAdjust="spacingAndGlyphs">43,35</text><text x="319" y="238" font-size="19.8" textLength="39.0" lengthAdjust="spacingAndGlyphs">45,13</text>
</svg>
</body></html>
